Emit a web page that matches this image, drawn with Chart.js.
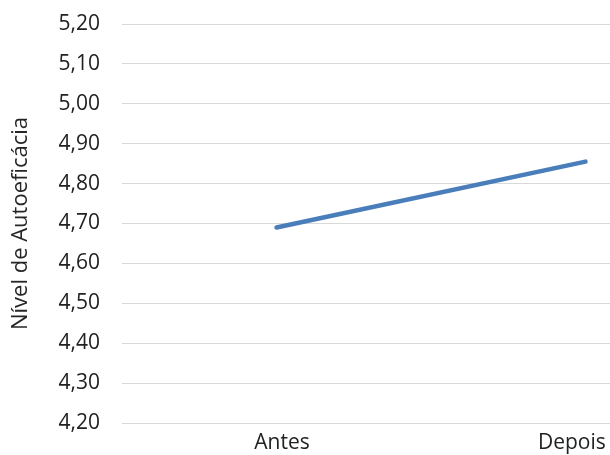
<!DOCTYPE html>
<html>
<head>
<meta charset="utf-8">
<script src="https://cdn.jsdelivr.net/npm/chart.js@4"></script>
<style>
  html, body { margin: 0; padding: 0; background: #fff; overflow: hidden; }
  #wrap { width: 610px; height: 455px; overflow: hidden; }
</style>
</head>
<body>
<div id="wrap"><canvas id="chart" width="740" height="455"></canvas></div>
<script>
/* ==== Data ==== */
const categories = ['Antes', 'Depois'];
const autoeficacia = [4.69, 4.855];
const yMin = 4.2, yMax = 5.2, yStep = 0.1;

const FONT = '"Open Sans", "Noto Sans", sans-serif';
const NBSP = '\u00a0';

// nudge category labels: first a bit right, last pulled back inside the visible width
function xLabel(value, index) {
  const label = categories[index];
  if (index === 0) return NBSP + NBSP + label;
  if (index === categories.length - 1) return label + NBSP.repeat(5);
  return label;
}

const ctx = document.getElementById('chart').getContext('2d');
new Chart(ctx, {
  type: 'line',
  data: {
    labels: categories,
    datasets: [{
      data: autoeficacia,
      borderColor: '#4a7ebb',
      borderWidth: 4.5,
      borderCapStyle: 'round',
      pointRadius: 0,
      fill: false,
      tension: 0
    }]
  },
  options: {
    responsive: false,
    animation: false,
    layout: { padding: { left: 8, top: 24, right: 0, bottom: 0 } },
    plugins: { legend: { display: false }, tooltip: { enabled: false } },
    scales: {
      x: {
        offset: true,
        grid: { display: false, drawTicks: false },
        border: { display: false },
        ticks: {
          color: '#222',
          font: { family: FONT, size: 21 },
          padding: 7,
          maxRotation: 0,
          callback: xLabel
        },
        afterFit: s => { s.height = 32; }
      },
      y: {
        min: yMin,
        max: yMax,
        ticks: {
          stepSize: yStep,
          color: '#222',
          font: { family: FONT, size: 21 },
          padding: 22,
          callback: v => v.toFixed(2).replace('.', ',')
        },
        grid: { color: '#d9d9d9', lineWidth: 1, drawTicks: false },
        border: { display: false },
        title: {
          display: true,
          text: 'Nível de Autoeficácia',
          color: '#262626',
          font: { family: FONT, size: 22 },
          padding: { top: 0, bottom: 0 }
        },
        // fixed axis width; tick padding shouldn't also pad the plot vertically
        afterFit: s => { s.width = 114; s.paddingTop = 0; s.paddingBottom = 0; }
      }
    }
  }
});
</script>
</body>
</html>
